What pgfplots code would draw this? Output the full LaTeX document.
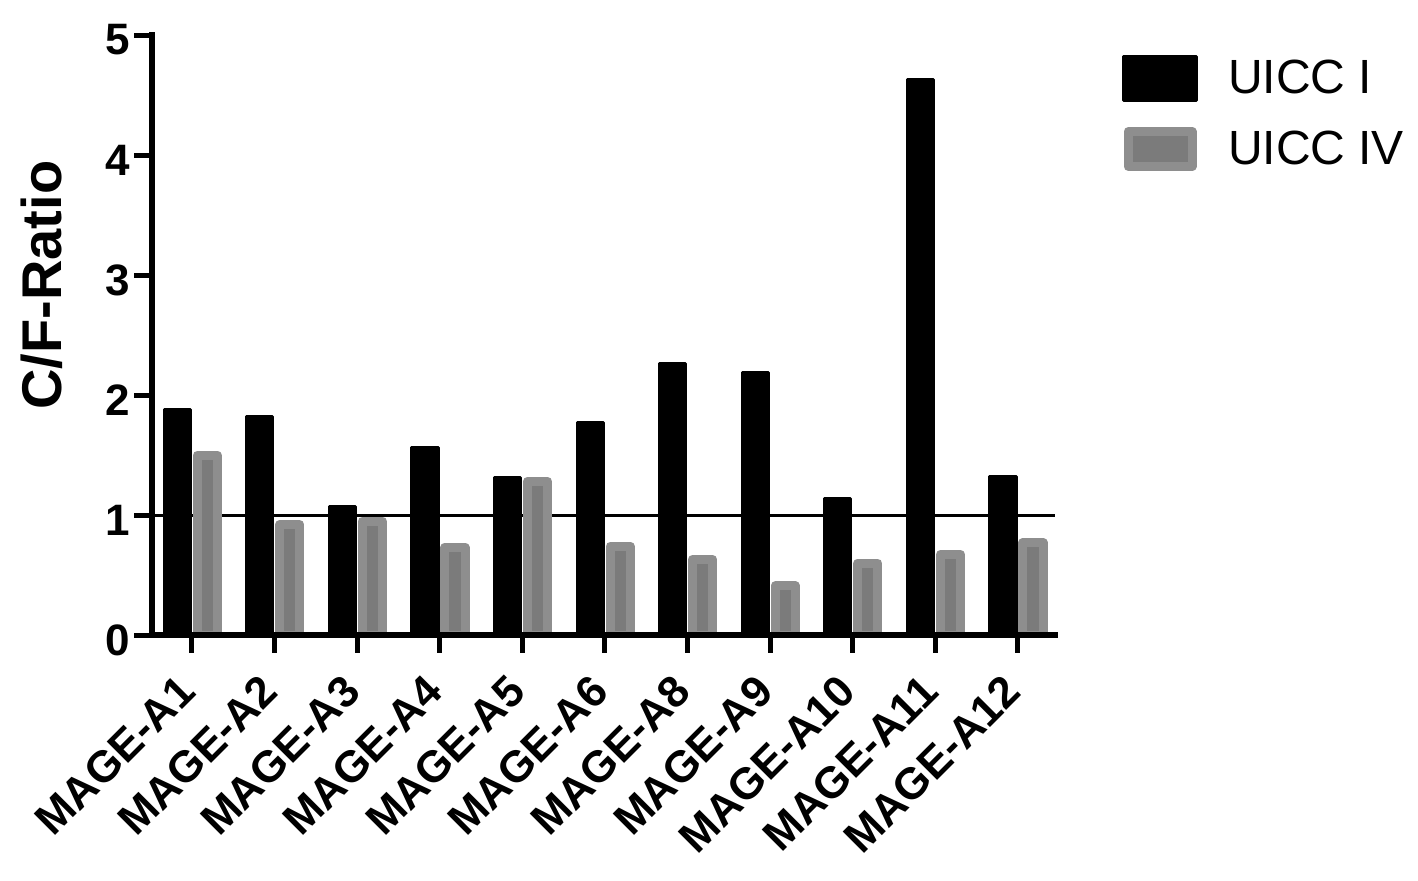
\documentclass[border=0pt]{standalone}
\usepackage{pgfplots}
\pgfplotsset{compat=1.18}
\usepackage{fontspec}
\setmainfont{Liberation Sans}
\definecolor{grayout}{HTML}{8E8E8E}
\definecolor{grayin}{HTML}{7B7B7B}

\begin{document}
\begin{tikzpicture}
\begin{axis}[
  name=ax, scale only axis, width=451.5pt, height=300pt,
  xmin=-0.484, xmax=10.45, ymin=0, ymax=5,
  xtick={0,1,2,3,4,5,6,7,8,9,10},
  xticklabels={MAGE-A1,MAGE-A2,MAGE-A3,MAGE-A4,MAGE-A5,MAGE-A6,MAGE-A8,MAGE-A9,MAGE-A10,MAGE-A11,MAGE-A12},
  ytick={0,1,2,3,4,5},
  axis x line*=bottom, axis y line*=left,
  axis line style={-, line width=3pt, line cap=rect},
  tick align=outside, major tick length=8.75pt,
  major tick style={line width=2.5pt, black},
  /pgf/number format/assume math mode=true,
  yticklabel style={font=\fontsize{22}{22}\selectfont\bfseries, inner sep=2pt, yshift=-2.5pt},
  xticklabel style={font=\fontsize{22}{22}\selectfont\bfseries, inner sep=0pt, anchor=east, xshift=-2.5pt, yshift=-15.5pt, rotate=45},
  ylabel={C/F-Ratio},
  ylabel style={font=\fontsize{28}{28}\selectfont\bfseries, at={(axis description cs:-0.122,0.583)}, anchor=center},
  axis on top,
  legend style={draw=none, fill=none, inner sep=0pt, outer sep=0pt, at={(1,1)}, anchor=north west,
    xshift=33.5pt, yshift=-10pt, row sep=12.5pt, font=\fontsize{24}{24}\selectfont,
    nodes={inner sep=0pt}},
  legend cell align=left,
]
\addplot[sharp plot, black, line width=1.5pt, forget plot] coordinates {(-0.484,1) (10.45,1)};
\addplot[ybar, bar width=13.1pt, bar shift=-7.4pt, fill=black, draw=black, line width=1.5pt, line join=round,
  legend image code/.code={\fill[black] (0pt,-11pt) rectangle (36.5pt,11pt); \path (50pt,0pt);}]
  coordinates {(0,1.88) (1,1.82) (2,1.07) (3,1.56) (4,1.315) (5,1.767) (6,2.26) (7,2.19) (8,1.14) (9,4.63) (10,1.32)};
\addlegendentry{UICC I}
\addplot[ybar, bar width=10.1pt, bar shift=7.6pt, fill=grayin, draw=grayout, line width=4.5pt, line join=round,
  legend image code/.code={\draw[fill=grayin, draw=grayout, line width=4.5pt] (2.25pt,-8.75pt) rectangle (34.25pt,8.75pt); \path (50pt,0pt);}]
  coordinates {(0,1.50) (1,0.92) (2,0.95) (3,0.73) (4,1.28) (5,0.74) (6,0.63) (7,0.41) (8,0.60) (9,0.67) (10,0.77)};
\addlegendentry{UICC IV}
\end{axis}
\pgfresetboundingbox
\path ([xshift=-76pt,yshift=-122.5pt]ax.south west) rectangle ([xshift=633pt,yshift=317.5pt]ax.south west);
\end{tikzpicture}
\end{document}
